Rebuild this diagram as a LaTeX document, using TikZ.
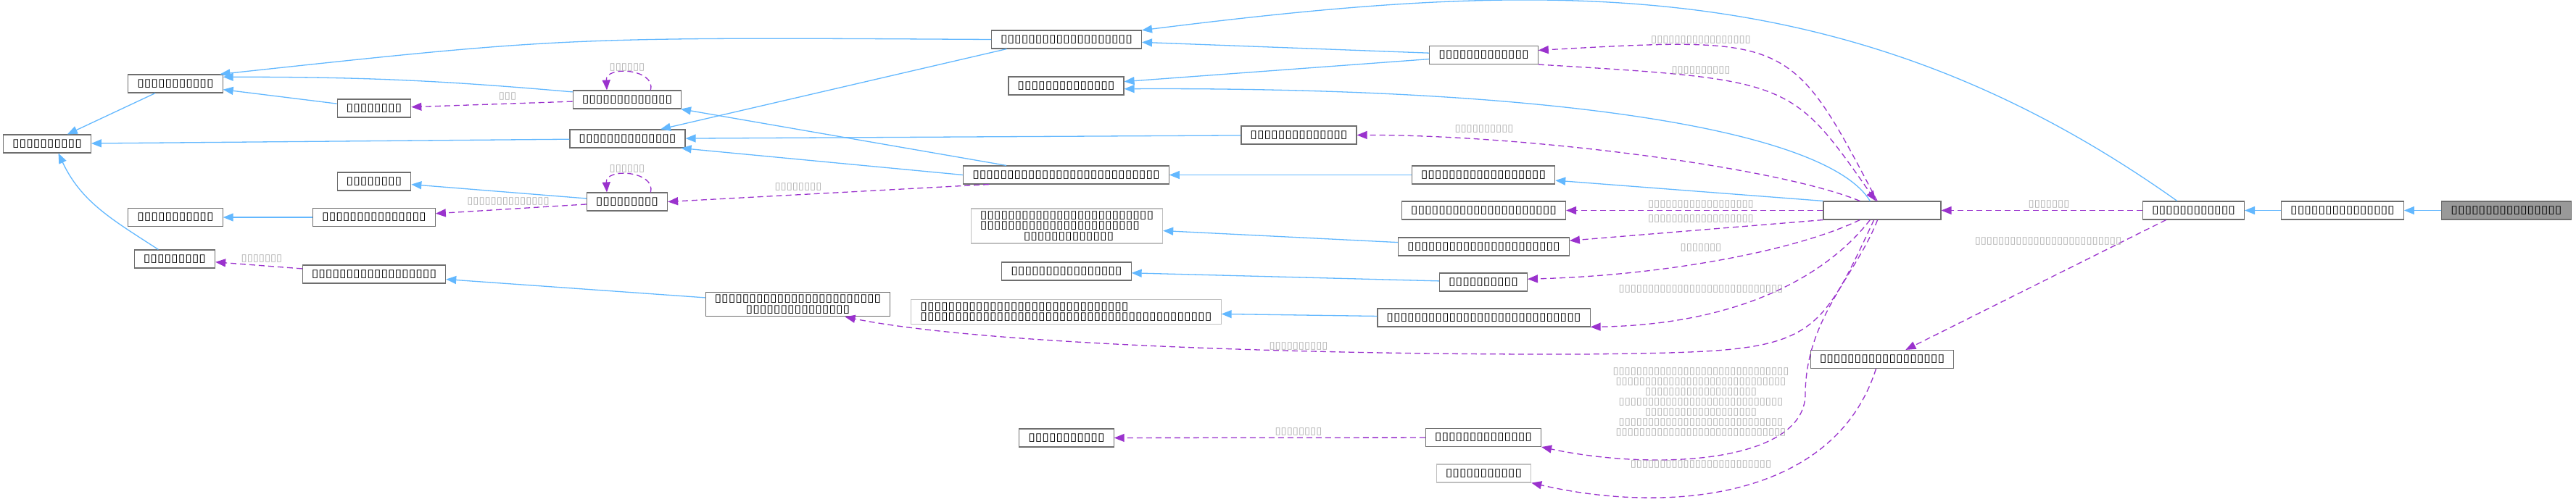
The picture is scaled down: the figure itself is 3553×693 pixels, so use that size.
\documentclass[tikz,border=0pt]{standalone}
\usepackage{fontspec}
\usetikzlibrary{arrows.meta}
\newfontfamily\tofufont[FakeStretch=1.16]{DejaVu Sans}
\newfontfamily\tofulabel[FakeStretch=1.09]{DejaVu Sans}
\definecolor{EdgeBlue}{RGB}{99,184,255}
\definecolor{EdgePurple}{RGB}{154,50,205}
\definecolor{BoxGray}{RGB}{110,110,110}
\definecolor{GhostGray}{RGB}{191,191,191}
\definecolor{LabelGray}{RGB}{170,170,170}
\definecolor{FocusGray}{RGB}{153,153,153}
\newcommand{\tofu}[1]{\foreach\tf in {1,...,#1}{▯}}

\begin{document}
\begin{tikzpicture}[x=1pt, y=1pt,
    cls/.style={draw=BoxGray, fill=white, line width=1.1pt, minimum height=25pt,
                inner xsep=12.5pt, inner ysep=0pt,
                font=\tofufont\fontsize{15}{14.3}\selectfont},
    ghost/.style={cls, draw=GhostGray},
    focus/.style={cls, fill=FocusGray},
    multi/.style={inner ysep=4pt},
    lbl/.style={font=\tofulabel\fontsize{13.5}{14}\selectfont, text=LabelGray,
                inner sep=0pt, align=center},
    inh/.style={-{Triangle[length=14pt,width=11pt]}, draw=EdgeBlue, line width=1.3pt},
    use/.style={-{Triangle[length=14pt,width=11pt]}, draw=EdgePurple, line width=1.3pt,
                dash pattern=on 8pt off 5pt}
  ]
  \useasboundingbox (0,0) rectangle (3553,-693);

  % classes
  \node[cls]   (root)  at (65,-198.5)    {\tofu{10}};
  \node[cls]   (hb)    at (242,-115.5)   {\tofu{11}};
  \node[cls]   (hc)    at (516,-149.5)   {\tofu{8}};
  \node[cls]   (hd)    at (865,-137.5)   {\tofu{13}};
  \node[cls]   (he)    at (865.5,-191.5) {\tofu{14}};
  \node[cls]   (hf)    at (1471,-54.5)   {\tofu{19}};
  \node[cls]   (hg)    at (1470.5,-118.5){\tofu{14}};
  \node[cls]   (hh)    at (2046.5,-76)   {\tofu{13}};
  \node[cls]   (hi)    at (1791.5,-186.5){\tofu{14}};
  \node[cls]   (hj)    at (1470.5,-241.5){\tofu{27}};
  \node[cls]   (hk)    at (2046.5,-290.5){\tofu{21}};
  \node[cls]   (hl)    at (865,-278.5)   {\tofu{9}};
  \node[cls]   (hm)    at (516,-250.5)   {\tofu{8}};
  \node[cls]   (hn)    at (242,-300)     {\tofu{11}};
  \node[cls]   (ho)    at (516,-300)     {\tofu{15}};
  \node[cls]   (hp)    at (241,-357.5)   {\tofu{9}};
  \node[cls]   (hq)    at (516,-378.5)   {\tofu{18}};
  \node[ghost, multi, align=left] (hr) at (1471.5,-312)
        {\tofu{25}\\\tofu{23}\\\hspace*{60pt}\tofu{13}};
  \node[cls]   (hs)    at (2046.5,-340.5){\tofu{22}};
  \node[cls]   (ht)    at (2046,-241.5)  {\tofu{18}};
  \node[cls]   (hu)    at (1471,-374.5)  {\tofu{16}};
  \node[cls]   (hv)    at (2046,-389.5)  {\tofu{10}};
  \node[ghost, multi, align=left] (hw) at (1470.5,-430.5)
        {\tofu{30}\\\tofu{42}};
  \node[cls]   (hx)    at (2046.5,-438.5){\tofu{28}};
  \node[cls, multi, align=center] (hy) at (1100.5,-420)
        {\tofu{24}\\\tofu{15}};
  \node[cls, minimum width=162pt] (core) at (2596,-290.5) {};
  \node[cls]   (base)  at (3025.5,-290.5){\tofu{12}};
  \node[cls]   (mid)   at (3231,-290.5)  {\tofu{15}};
  \node[focus] (self)  at (3457,-290.5)  {\tofu{16}};
  \node[cls]   (aux)   at (2596,-496)    {\tofu{18}};
  \node[cls]   (pool)  at (2046,-604)    {\tofu{14}};
  \node[cls]   (poolb) at (1471,-604.5)  {\tofu{11}};
  \node[ghost] (spare) at (2046.5,-653.5){\tofu{11}};

  % inheritance
  \draw[inh] (hb) -- (root);
  \draw[inh] (he) -- (root);
  \draw[inh] (hp.150) to[out=147,in=-65] (root.-40);
  \draw[inh] (hf.west) .. controls (780,-51) .. (hb.12);
  \draw[inh] (hd.172) to[out=175,in=0] (hb.8);
  \draw[inh] (hc) -- (hb);
  \draw[inh] (hf.-171) -- (he.16);
  \draw[inh] (hj.west) -- (he.-10);
  \draw[inh] (hj.171) -- (hd.-10);
  \draw[inh] (hl) -- (hm);
  \draw[inh] (ho) -- (hn);
  \draw[inh] (hy) -- (hq);
  \draw[inh] (hh) -- (hf);
  \draw[inh] (hh) -- (hg);
  \draw[inh] (core.142) .. controls (2520,-180) and (2150,-120) .. (hg.-3);
  \draw[inh] (base.150) .. controls (2548,46) and (2124,27) .. (hf.7);
  \draw[inh] (hi) -- (he);
  \draw[inh] (ht) -- (hj);
  \draw[inh] (core.north west) -- (ht);
  \draw[inh] (hs) -- (hr);
  \draw[inh] (hv) -- (hu);
  \draw[inh] (hx) -- (hw);
  \draw[inh] (mid) -- (base);
  \draw[inh] (self) -- (mid);

  % usage
  \draw[use] (hd.22) .. controls (905,-95) and (835,-90) .. (hd.155);
  \draw[use] (hd) -- (hc);
  \draw[use] (hl.22) .. controls (905,-236) and (835,-231) .. (hl.155);
  \draw[use] (hl) -- (ho);
  \draw[use] (hj.-173) -- (hl.east);
  \draw[use] (hq) -- (hp);
  \draw[use] (core.118) .. controls (2470,-50) .. (hh.5);
  \draw[use] (hh.south east) .. controls (2470,-110) .. (core.124);
  \draw[use] (core.157) .. controls (2450,-230) and (2100,-186) .. (hi.east);
  \draw[use] (core) -- (hk);
  \draw[use] (core.south west) -- (hs.4);
  \draw[use] (core.-157) .. controls (2480,-345) and (2300,-380) .. (hv.4);
  \draw[use] (core.-142) .. controls (2520,-380) and (2400,-448) .. (hx.-5);
  \draw[use] (core.-131) .. controls (2500,-485) .. (2185,-489)
             .. controls (1800,-490) and (1350,-475) .. (hy.-15);
  \draw[use] (core.-116) .. controls (2560,-380) and (2490,-440) .. (2490,-545)
             .. controls (2488,-640) and (2280,-650) .. (pool.south east);
  \draw[use] (pool) -- (poolb);
  \draw[use] (base) -- (core);
  \draw[use] (base.-161) -- (aux.22);
  \draw[use] (aux.-123) .. controls (2530,-690) and (2300,-710) .. (spare.south east);

  % edge labels
  \node[lbl] (lb1)  at (865,-93)   {\tofu{6}};
  \node[lbl] (lb2)  at (700,-133)  {\tofu{3}};
  \node[lbl] (lb3)  at (865,-233)  {\tofu{6}};
  \node[lbl] (lb4)  at (701,-278)  {\tofu{14}};
  \node[lbl] (lb5)  at (1101,-258) {\tofu{8}};
  \node[lbl] (lb6)  at (361,-357)  {\tofu{7}};
  \node[lbl] (lb7)  at (2346,-55)  {\tofu{17}};
  \node[lbl] (lb8)  at (2346,-97)  {\tofu{10}};
  \node[lbl] (lb9)  at (2047,-178) {\tofu{10}};
  \node[lbl] (lb10) at (2346,-282) {\tofu{18}};
  \node[lbl] (lb11) at (2346,-302) {\tofu{18}};
  \node[lbl] (lb12) at (2346,-342) {\tofu{7}};
  \node[lbl] (lb13) at (2346,-399) {\tofu{28}};
  \node[lbl] (lb14) at (1791,-478) {\tofu{10}};
  \node[lbl] (lb15) at (2346,-555)
        {\tofu{30}\\\tofu{29}\\\tofu{19}\\\tofu{28}\\\tofu{19}\\\tofu{28}\\\tofu{29}};
  \node[lbl] (lb16) at (1791,-596) {\tofu{8}};
  \node[lbl] (lb17) at (2346,-641) {\tofu{24}};
  \node[lbl] (lb18) at (2826,-282) {\tofu{7}};
  \node[lbl] (lb19) at (2825,-333) {\tofu{25}};
\end{tikzpicture}
\end{document}
